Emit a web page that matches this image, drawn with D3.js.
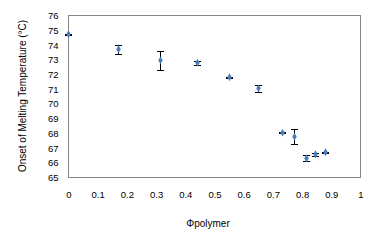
<!DOCTYPE html>
<html>
<head>
<meta charset="utf-8">
<script src="https://cdn.jsdelivr.net/npm/d3@7"></script>
<style>
  body { margin: 0; background: #fff; }
  text { font-family: "Liberation Sans", Arial, sans-serif; fill: #000; }
</style>
</head>
<body>
<svg id="chart" width="374" height="244"></svg>
<script>
// values
const phi = [0.0, 0.172, 0.316, 0.443, 0.552, 0.651, 0.734, 0.775, 0.814, 0.847, 0.88]
const onset = [74.69, 73.67, 72.92, 72.76, 71.77, 71.02, 68.01, 67.74, 66.27, 66.54, 66.68]
const err = [0.05, 0.29, 0.64, 0.15, 0.03, 0.24, 0.03, 0.5, 0.19, 0.1, 0.04]
const xTicks = [0, 0.1, 0.2, 0.3, 0.4, 0.5, 0.6, 0.7, 0.8, 0.9, 1]
const yTicks = [65, 66, 67, 68, 69, 70, 71, 72, 73, 74, 75, 76]

const svg = d3.select('#chart')
const plotL = 68, plotR = 360, plotT = 15, plotB = 177

const x = d3.scaleLinear().domain([0, 1]).range([plotL, plotR])
const y = d3.scaleLinear().domain([65, 76]).range([plotB, plotT])

// plot frame
svg.append('rect')
  .attr('x', plotL + 0.5).attr('y', plotT + 0.5)
  .attr('width', plotR - plotL).attr('height', plotB - plotT)
  .attr('fill', 'none').attr('stroke', '#868686')

const yAxis = svg.append('g')
  .attr('transform', `translate(${plotL + 0.5},0.5)`)
  .call(d3.axisLeft(y).tickValues(yTicks).tickSize(0).tickPadding(10).tickFormat(d3.format('d')))
yAxis.select('.domain').remove()
yAxis.selectAll('text').style('font-size', '9.5px')

const xAxis = svg.append('g')
  .attr('transform', `translate(0.5,${plotB + 0.5})`)
  .call(d3.axisBottom(x).tickValues(xTicks).tickSize(0).tickPadding(14).tickFormat(d => d === 0 || d === 1 ? d3.format('d')(d) : d3.format('.1f')(d)))
xAxis.select('.domain').remove()
xAxis.selectAll('text').style('font-size', '9.5px')

// error bars
const bars = svg.append('g').attr('stroke', '#000').attr('stroke-width', 1)
phi.forEach((p, i) => {
  const cx = Math.round(x(p)) + 0.5
  const y1 = Math.round(y(onset[i] + err[i])) + 0.5
  const y2 = Math.round(y(onset[i] - err[i])) + 0.5
  bars.append('line').attr('x1', cx).attr('x2', cx).attr('y1', y1).attr('y2', y2)
  bars.append('line').attr('x1', cx - 3.5).attr('x2', cx + 3.5).attr('y1', y1).attr('y2', y1)
  bars.append('line').attr('x1', cx - 3.5).attr('x2', cx + 3.5).attr('y1', y2).attr('y2', y2)
})

// markers
svg.append('g').selectAll('path')
  .data(phi)
  .join('path')
  .attr('transform', (d, i) => `translate(${Math.round(x(d)) + 0.5},${y(onset[i])})`)
  .attr('d', d3.symbol(d3.symbolDiamond, 18))
  .attr('fill', '#4a7ebb')

// axis titles
svg.append('text')
  .attr('transform', `translate(26,${(plotT + plotB) / 2}) rotate(-90)`)
  .attr('text-anchor', 'middle')
  .style('font-size', '10px')
  .text('Onset of Melting Temperature (°C)')

svg.append('text')
  .attr('x', 208).attr('y', 227)
  .attr('text-anchor', 'middle')
  .style('font-size', '10px')
  .text('Φpolymer')
</script>
</body>
</html>
